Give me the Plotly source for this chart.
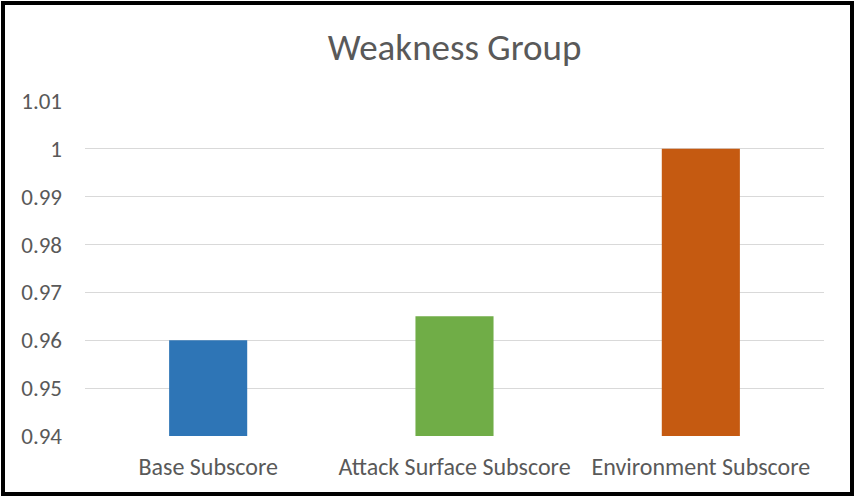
import plotly.graph_objects as go

categories = ["Base Subscore", "Attack Surface Subscore", "Environment Subscore"]
values = [0.96, 0.965, 1.0]
bar_colors = ["#2E75B6", "#70AD47", "#C55A11"]
y_tickvals = [0.94, 0.95, 0.96, 0.97, 0.98, 0.99, 1.0, 1.01]
y_ticktext = ["0.94", "0.95", "0.96", "0.97", "0.98", "0.99", "1", "1.01"]

W, H = 855, 497
L, R, T, B = 85, 31, 101, 61
pw, ph = W - L - R, H - T - B

def px_x(p):
    return (p - L) / pw

def px_y(p):
    return (H - B - p) / ph

FONT = "Carlito, Calibri, 'Liberation Sans Narrow', 'DejaVu Sans Condensed', sans-serif"
GRAY = "#595959"

fig = go.Figure(
    go.Bar(
        x=categories,
        y=values,
        base=0,
        marker=dict(color=bar_colors, line=dict(width=0)),
        showlegend=False,
        hoverinfo="x+y",
    )
)

fig.update_layout(
    width=W,
    height=H,
    margin=dict(l=L, r=R, t=T, b=B),
    paper_bgcolor="white",
    plot_bgcolor="white",
    bargap=0.683,
    font=dict(family=FONT, color=GRAY, size=23),
    title=dict(
        text="Weakness Group",
        x=0.5,
        xref="paper",
        xanchor="center",
        y=1 - 47 / H,
        yref="container",
        yanchor="middle",
        font=dict(family=FONT, size=37, color=GRAY),
    ),
    xaxis=dict(
        showgrid=False,
        showline=False,
        zeroline=False,
        ticks="",
        tickfont=dict(size=24, color=GRAY),
        ticklabelstandoff=14,
    ),
    yaxis=dict(
        range=[0.94, 1.01],
        tickvals=y_tickvals,
        ticktext=y_ticktext,
        showgrid=True,
        gridcolor="#D9D9D9",
        gridwidth=1,
        zeroline=False,
        showline=False,
        ticks="",
        tickfont=dict(size=23, color=GRAY),
        ticklabelstandoff=22,
    ),
    shapes=[
        dict(
            type="rect",
            xref="paper",
            yref="paper",
            x0=px_x(3),
            x1=px_x(852),
            y0=px_y(494),
            y1=px_y(3),
            line=dict(color="black", width=4),
            fillcolor="rgba(0,0,0,0)",
            layer="above",
        )
    ],
)

fig.write_html("out.html")
